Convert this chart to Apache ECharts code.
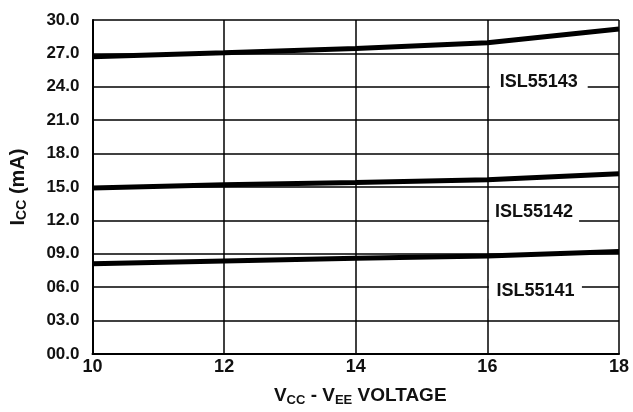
<!DOCTYPE html>
<html>
<head>
<meta charset="utf-8">
<script src="https://cdn.jsdelivr.net/npm/echarts@6/dist/echarts.min.js"></script>
<style>
html,body{margin:0;padding:0;background:#fff;}
#chart{width:633px;height:412px;}
</style>
</head>
<body>
<div id="chart"></div>
<script>
var voltages = [10, 12, 14, 16, 18];
var isl55143 = [26.7, 27.05, 27.45, 27.95, 29.2];
var isl55142 = [14.9, 15.2, 15.4, 15.65, 16.2];
var isl55141 = [8.1, 8.35, 8.6, 8.8, 9.2];
var seriesNames = ['ISL55143', 'ISL55142', 'ISL55141'];
var yTickLabels = ['00.0','03.0','06.0','09.0','12.0','15.0','18.0','21.0','24.0','27.0','30.0'];
var xTickLabels = ['10','12','14','16','18'];
// label anchor positions (data coordinates)
var labelAnchors = [[16.78, 24.29], [16.71, 12.63], [16.73, 5.76]];

var FONT = '"Liberation Sans", Arial, Helvetica, sans-serif';
var chart = echarts.init(document.getElementById('chart'), null, {renderer: 'canvas'});

function pairs(ys) { return voltages.map(function (x, i) { return [x, ys[i]]; }); }

var labelBoxes = [
  {size: [98, 20], offset: [0, -2]},
  {size: [90, 21], offset: [0, -1.5]},
  {size: [93, 18], offset: [0, 1.5]}
];

function makeSeries(name, ys, idx) {
  return {
    name: name,
    type: 'line',
    data: pairs(ys),
    symbol: 'none',
    lineStyle: {color: '#000', width: 5},
    z: 3,
    markPoint: {
      silent: true,
      symbol: 'rect',
      symbolSize: labelBoxes[idx].size,
      itemStyle: {color: '#fff'},
      label: {
        show: true,
        position: 'inside',
        offset: labelBoxes[idx].offset,
        formatter: name,
        color: '#111',
        fontFamily: FONT,
        fontWeight: 'bold',
        fontSize: 18
      },
      data: [{coord: labelAnchors[idx]}]
    }
  };
}

var option = {
  backgroundColor: '#fff',
  animation: false,
  grid: {left: 91, right: 14, top: 20, bottom: 56, containLabel: false},
  xAxis: {
    type: 'value',
    min: 10, max: 18, interval: 2,
    name: '{m|V}{s|CC}{m| - V}{s|EE}{m| VOLTAGE}',
    nameLocation: 'middle',
    nameGap: 31,
    nameTextStyle: {
      padding: [0, 0, 0, 9],
      rich: {
        m: {fontFamily: FONT, fontWeight: 'bold', fontSize: 19, color: '#111'},
        s: {fontFamily: FONT, fontWeight: 'bold', fontSize: 13, color: '#111', padding: [9, 0, 0, 0]}
      }
    },
    axisLine: {show: true, onZero: false, lineStyle: {color: '#000', width: 2}},
    axisTick: {show: false},
    splitLine: {show: true, lineStyle: {color: '#000', width: 1.5}},
    axisLabel: {
      margin: 4,
      color: '#111',
      fontFamily: FONT, fontWeight: 'bold', fontSize: 18,
      formatter: function (v) { return xTickLabels[Math.round((v - 10) / 2)]; }
    }
  },
  yAxis: {
    type: 'value',
    min: 0, max: 30, interval: 3,
    name: '{m|I}{s|CC}{m| (mA)}',
    nameLocation: 'middle',
    nameGap: 63,
    nameTextStyle: {
      rich: {
        m: {fontFamily: FONT, fontWeight: 'bold', fontSize: 20, color: '#111'},
        s: {fontFamily: FONT, fontWeight: 'bold', fontSize: 14, color: '#111', padding: [9, 0, 0, 0]}
      }
    },
    axisLine: {show: true, lineStyle: {color: '#000', width: 2}},
    axisTick: {show: false},
    splitLine: {show: true, lineStyle: {color: '#000', width: 1.5}},
    axisLabel: {
      margin: 13,
      padding: [0, 0, 11, 0],
      color: '#111',
      fontFamily: FONT, fontWeight: 'bold', fontSize: 17,
      formatter: function (v) { return yTickLabels[Math.round(v / 3)]; }
    }
  },
  series: [
    makeSeries(seriesNames[0], isl55143, 0),
    makeSeries(seriesNames[1], isl55142, 1),
    makeSeries(seriesNames[2], isl55141, 2)
  ]
};
chart.setOption(option);
</script>
</body>
</html>
